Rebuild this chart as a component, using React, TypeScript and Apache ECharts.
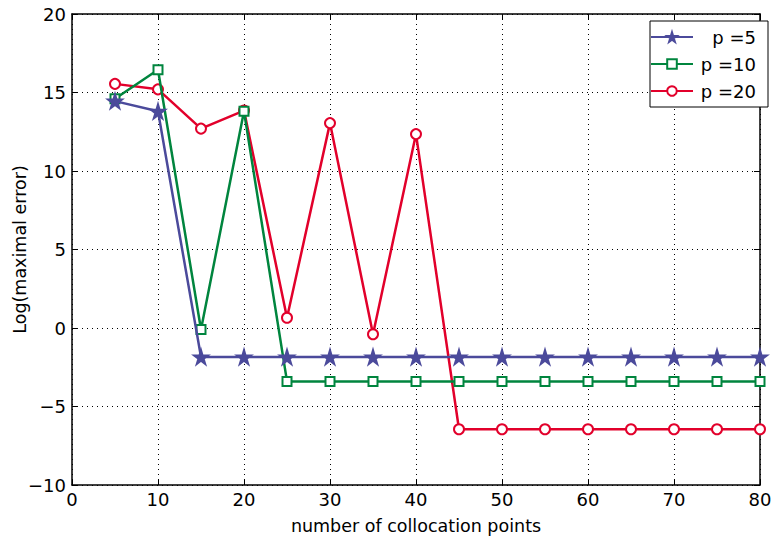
import React, { useEffect, useRef } from "react";
import * as echarts from "echarts";

const xs = [5, 10, 15, 20, 25, 30, 35, 40, 45, 50, 55, 60, 65, 70, 75, 80];
const p5 = [14.45, 13.8, -1.85, -1.85, -1.85, -1.85, -1.85, -1.85, -1.85, -1.85, -1.85, -1.85, -1.85, -1.85, -1.85, -1.85];
const p10 = [14.6, 16.45, -0.1, 13.8, -3.4, -3.4, -3.4, -3.4, -3.4, -3.4, -3.4, -3.4, -3.4, -3.4, -3.4, -3.4];
const p20 = [15.55, 15.2, 12.7, 13.85, 0.65, 13.05, -0.4, 12.35, -6.45, -6.45, -6.45, -6.45, -6.45, -6.45, -6.45, -6.45];
const seriesNames = ["p =5", "p =10", "p =20"];
const colors = ["#4b4a9b", "#00853e", "#e2002b"];

const STAR = "path://M50,0 L61,35 L98,35 L68,57 L79,91 L50,70 L21,91 L32,57 L2,35 L39,35 Z";

export default function App() {
  const ref = useRef<HTMLDivElement>(null);
  useEffect(() => {
    if (!ref.current) return;
    const chart = echarts.init(ref.current, null, { renderer: "svg" });
    const font = "DejaVu Sans";
    const fmtNum = (v: number) => (v < 0 ? "\u2212" + Math.abs(v) : String(v));
    const axisLine = { show: true, onZero: false, lineStyle: { color: "#000", width: 1.5 } };
    const tick = { show: true, inside: true, length: 6, lineStyle: { color: "#000", width: 1 } };
    const split = { show: true, lineStyle: { color: "#000", type: [1, 4], width: 1 } };
    const mk = (vals: number[]) => xs.map((x, i) => [x, vals[i]]);
    const symbols = [STAR, "emptyRect", "emptyCircle"];
    const sizes = [14, 9, 10];
    chart.setOption({
      animation: false,
      backgroundColor: "#fff",
      textStyle: { fontFamily: font },
      grid: { left: 72, right: 13, top: 14, bottom: 52, outerBoundsMode: "none", containLabel: false },
      xAxis: [
        {
          type: "value", min: 0, max: 80, interval: 10, position: "bottom",
          axisLine, axisTick: tick, splitLine: split,
          axisLabel: { color: "#000", fontSize: 18, fontFamily: font, margin: 5 },
          name: "number of collocation points", nameLocation: "middle", nameGap: 32,
          nameMoveOverlap: false,
          nameTextStyle: { color: "#000", fontSize: 17.5, fontFamily: font },
        },
        {
          type: "value", min: 0, max: 80, interval: 10, position: "top",
          axisLine, axisTick: tick, splitLine: { show: false }, axisLabel: { show: false },
        },
      ],
      yAxis: [
        {
          type: "value", min: -10, max: 20, interval: 5, position: "left",
          axisLine, axisTick: tick, splitLine: split,
          axisLabel: { color: "#000", fontSize: 18, fontFamily: font, margin: 6, formatter: fmtNum },
          name: "Log(maximal error)", nameLocation: "middle", nameGap: 43,
          nameMoveOverlap: false,
          nameTextStyle: { color: "#000", fontSize: 17.5, fontFamily: font },
        },
        {
          type: "value", min: -10, max: 20, interval: 5, position: "right",
          axisLine, axisTick: tick, splitLine: { show: false }, axisLabel: { show: false },
        },
      ],
      legend: {
        orient: "vertical", left: 650, top: 21,
        itemWidth: 42, itemHeight: 12, itemGap: 9,
        padding: [7, 12, 7, 0],
        borderColor: "#000", borderWidth: 1, backgroundColor: "#fff",
        data: seriesNames,
        formatter: (n: string) => `{a|${n}}`,
        textStyle: {
          color: "#000", fontSize: 18, fontFamily: font,
          rich: { a: { width: 58, align: "right", fontSize: 18, fontFamily: font, color: "#000" } },
        },
      },
      series: [p5, p10, p20].map((vals, i) => ({
        name: seriesNames[i],
        type: "line",
        data: mk(vals),
        symbol: symbols[i],
        symbolSize: sizes[i],
        showAllSymbol: true,
        z: 10 - i,
        lineStyle: { color: colors[i], width: 2.5 },
        itemStyle: { color: colors[i], borderColor: colors[i], borderWidth: 2 },
      })),
    });
    return () => chart.dispose();
  }, []);
  return <div ref={ref} style={{ position: "fixed", left: 0, top: 0, width: 773, height: 537 }} />;
}
